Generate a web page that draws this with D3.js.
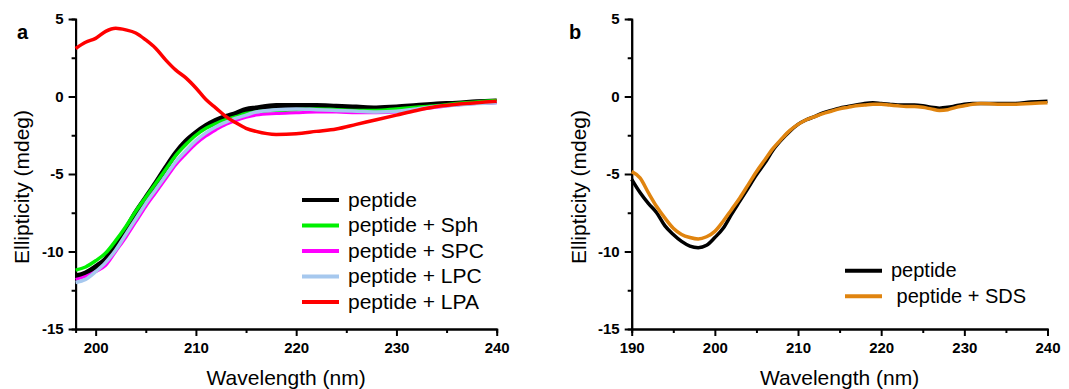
<!DOCTYPE html>
<html>
<head>
<meta charset="utf-8">
<script src="https://d3js.org/d3.v7.min.js"></script>
<style>
  body { margin: 0; background: #fff; }
  svg { font-family: Arial, "Liberation Sans", sans-serif; }
</style>
</head>
<body>
<div id="chart"></div>
<script>
    // panel a: peptide with lipids
    const waveA = [198, 199, 200, 201, 202, 203, 204, 205, 206, 207, 208, 209, 210, 211, 212, 213, 214, 215, 216,
                   218, 220, 222, 224, 226, 228, 230, 232, 234, 236, 238, 240];
    const peptideA = [-11.6, -11.4, -11.0, -10.5, -9.55, -8.6, -7.5, -6.55, -5.6, -4.6, -3.65, -2.9, -2.35, -1.9, -1.55, -1.3, -1.1, -0.85, -0.75,
                      -0.6, -0.6, -0.6, -0.65, -0.7, -0.75, -0.7, -0.6, -0.5, -0.45, -0.35, -0.3];
    const sphA = [-11.2, -11.0, -10.6, -10.1, -9.3, -8.4, -7.4, -6.5, -5.6, -4.7, -3.8, -3.1, -2.5, -2.05, -1.75, -1.5, -1.3, -1.1, -1.0,
                  -0.9, -0.85, -0.8, -0.85, -0.9, -0.9, -0.8, -0.7, -0.6, -0.45, -0.35, -0.25];
    const spcA = [-11.8, -11.6, -11.3, -10.9, -10.0, -9.1, -8.1, -7.1, -6.2, -5.3, -4.4, -3.7, -3.05, -2.55, -2.15, -1.8, -1.55, -1.35, -1.2,
                  -1.1, -1.05, -1.0, -1.0, -1.05, -1.05, -1.0, -0.85, -0.7, -0.55, -0.45, -0.4];
    const lpcA = [-12.0, -11.8, -11.3, -10.7, -9.9, -8.9, -7.9, -6.9, -6.0, -5.1, -4.2, -3.5, -2.85, -2.35, -1.95, -1.65, -1.4, -1.2, -1.0,
                  -0.85, -0.8, -0.85, -0.9, -0.95, -1.0, -0.95, -0.8, -0.65, -0.55, -0.45, -0.4];
    const lpaA = [3.1, 3.5, 3.75, 4.2, 4.4, 4.3, 4.1, 3.65, 3.1, 2.35, 1.7, 1.2, 0.55, -0.2, -0.75, -1.3, -1.7, -2.05, -2.25,
                  -2.45, -2.4, -2.25, -2.1, -1.8, -1.5, -1.2, -0.9, -0.65, -0.5, -0.4, -0.3];
    const namesA = ["peptide", "peptide + Sph", "peptide + SPC", "peptide + LPC", "peptide + LPA"];
    const colorsA = ["#000000", "#00f000", "#ff00ff", "#a6c8ee", "#ff0000"];

    // panel b: peptide with SDS
    const waveB = [190, 191, 192, 193, 194, 195, 196, 197, 198, 199, 200, 201, 202, 203, 204, 205, 206, 207, 208, 209, 210,
                   211, 212, 213, 214, 215, 216, 217, 218, 219, 220, 221, 222, 223, 224, 225, 226, 227, 228, 229, 230, 231, 232,
                   234, 236, 238, 240];
    const peptideB = [-5.35, -6.2, -6.9, -7.5, -8.35, -8.9, -9.35, -9.65, -9.75, -9.6, -9.1, -8.5, -7.6, -6.75, -5.9, -5.05, -4.3, -3.45, -2.8, -2.25, -1.8,
                      -1.5, -1.3, -1.05, -0.9, -0.75, -0.65, -0.55, -0.45, -0.4, -0.45, -0.5, -0.55, -0.55, -0.55, -0.6, -0.7, -0.75, -0.7, -0.6, -0.5, -0.45, -0.45,
                      -0.45, -0.45, -0.35, -0.3];
    const sdsB = [-4.85, -5.25, -6.2, -7.1, -7.85, -8.5, -8.9, -9.1, -9.2, -9.05, -8.7, -8.05, -7.3, -6.55, -5.7, -4.85, -4.1, -3.35, -2.75, -2.2, -1.8,
                  -1.5, -1.3, -1.1, -0.95, -0.8, -0.7, -0.6, -0.55, -0.5, -0.5, -0.55, -0.6, -0.65, -0.65, -0.7, -0.8, -0.9, -0.85, -0.7, -0.6, -0.5, -0.45,
                  -0.5, -0.5, -0.45, -0.4];
    const namesB = ["peptide", " peptide + SDS"];
    const colorsB = ["#000000", "#e0840f"];

    const yTicks = [-15, -10, -5, 0, 5];
    const yMinor = [-12.5, -7.5, -2.5, 2.5];

    const svg = d3.select("#chart").append("svg")
        .attr("width", 1069)
        .attr("height", 389);

    function drawPanel(opts) {
        let x = d3.scaleLinear().domain(opts.xDomain).range(opts.xRange);
        let y = d3.scaleLinear().domain([-15, 5]).range([329, 19]);
        let g = svg.append("g");

        // minor ticks
        g.append("g")
            .attr("transform", "translate(0,329)")
            .call(d3.axisBottom(x).tickValues(opts.xMinor).tickSize(4).tickFormat(""));
        g.append("g")
            .attr("transform", "translate(" + opts.xRange[0] + ",0)")
            .call(d3.axisLeft(y).tickValues(yMinor).tickSize(4).tickFormat(""));

        // major axes
        g.append("g")
            .attr("transform", "translate(0,329)")
            .call(d3.axisBottom(x).tickValues(opts.xTicks).tickSize(7).tickSizeOuter(0).tickPadding(6).tickFormat(d3.format("d")));
        g.append("g")
            .attr("transform", "translate(" + opts.xRange[0] + ",0)")
            .call(d3.axisLeft(y).tickValues(yTicks).tickSize(7).tickSizeOuter(0).tickPadding(5).tickFormat(d => d < 0 ? "-" + Math.abs(d) : d));

        g.selectAll(".domain").attr("stroke", "#000").attr("stroke-width", 2);
        g.selectAll(".tick line").attr("stroke", "#000").attr("stroke-width", 2);
        g.selectAll(".tick text")
            .attr("fill", "#000")
            .style("font-size", "15px")
            .style("font-weight", "bold")
            .style("font-family", "Arial, 'Liberation Sans', sans-serif");

        // lines
        let line = d3.line()
            .x((d, i) => x(opts.wave[i]))
            .y(d => y(d))
            .curve(d3.curveMonotoneX);
        opts.series.forEach(function(s, i) {
            g.append("path")
                .datum(s)
                .attr("fill", "none")
                .attr("stroke", opts.colors[i])
                .attr("stroke-width", opts.widths[i])
                .attr("stroke-linejoin", "round")
                .attr("d", line);
        });

        // axis titles
        g.append("text")
            .attr("x", (opts.xRange[0] + opts.xRange[1]) / 2)
            .attr("y", 385)
            .attr("text-anchor", "middle")
            .style("font-size", "21px")
            .text("Wavelength (nm)");
        g.append("text")
            .attr("transform", "translate(" + opts.yTitleX + ",187) rotate(-90)")
            .attr("text-anchor", "middle")
            .style("font-size", "21px")
            .text("Ellipticity (mdeg)");

        // panel letter
        g.append("text")
            .attr("x", opts.letterX)
            .attr("y", 39)
            .style("font-size", "20px")
            .style("font-weight", "bold")
            .text(opts.letter);

        // legend
        opts.names.forEach(function(name, i) {
            let ly = opts.legendY + i * 25.5;
            g.append("line")
                .attr("x1", opts.legendX)
                .attr("x2", opts.legendX + 37)
                .attr("y1", ly)
                .attr("y2", ly)
                .attr("stroke", opts.colors[i])
                .attr("stroke-width", 4);
            g.append("text")
                .attr("x", opts.legendX + 46)
                .attr("y", ly)
                .attr("dy", "0.33em")
                .style("font-size", opts.legendFont)
                .style("white-space", "pre")
                .text(name);
        });
    }

    drawPanel({
        xDomain: [198, 240],
        xRange: [75.6, 496.7],
        xTicks: [200, 210, 220, 230, 240],
        xMinor: [205, 215, 225, 235],
        wave: waveA,
        series: [peptideA, sphA, spcA, lpcA, lpaA],
        colors: colorsA,
        widths: [5.5, 3.5, 3, 3.5, 3.5],
        names: namesA,
        legendX: 302,
        legendY: 200,
        legendFont: "21px",
        yTitleX: 29,
        letter: "a",
        letterX: 17
    });

    drawPanel({
        xDomain: [190, 240],
        xRange: [631.7, 1047.5],
        xTicks: [190, 200, 210, 220, 230, 240],
        xMinor: [195, 205, 215, 225, 235],
        wave: waveB,
        series: [peptideB, sdsB],
        colors: colorsB,
        widths: [3.5, 3.5],
        names: namesB,
        legendX: 845,
        legendY: 270.7,
        legendFont: "20px",
        yTitleX: 586,
        letter: "b",
        letterX: 569
    });
</script>
</body>
</html>
